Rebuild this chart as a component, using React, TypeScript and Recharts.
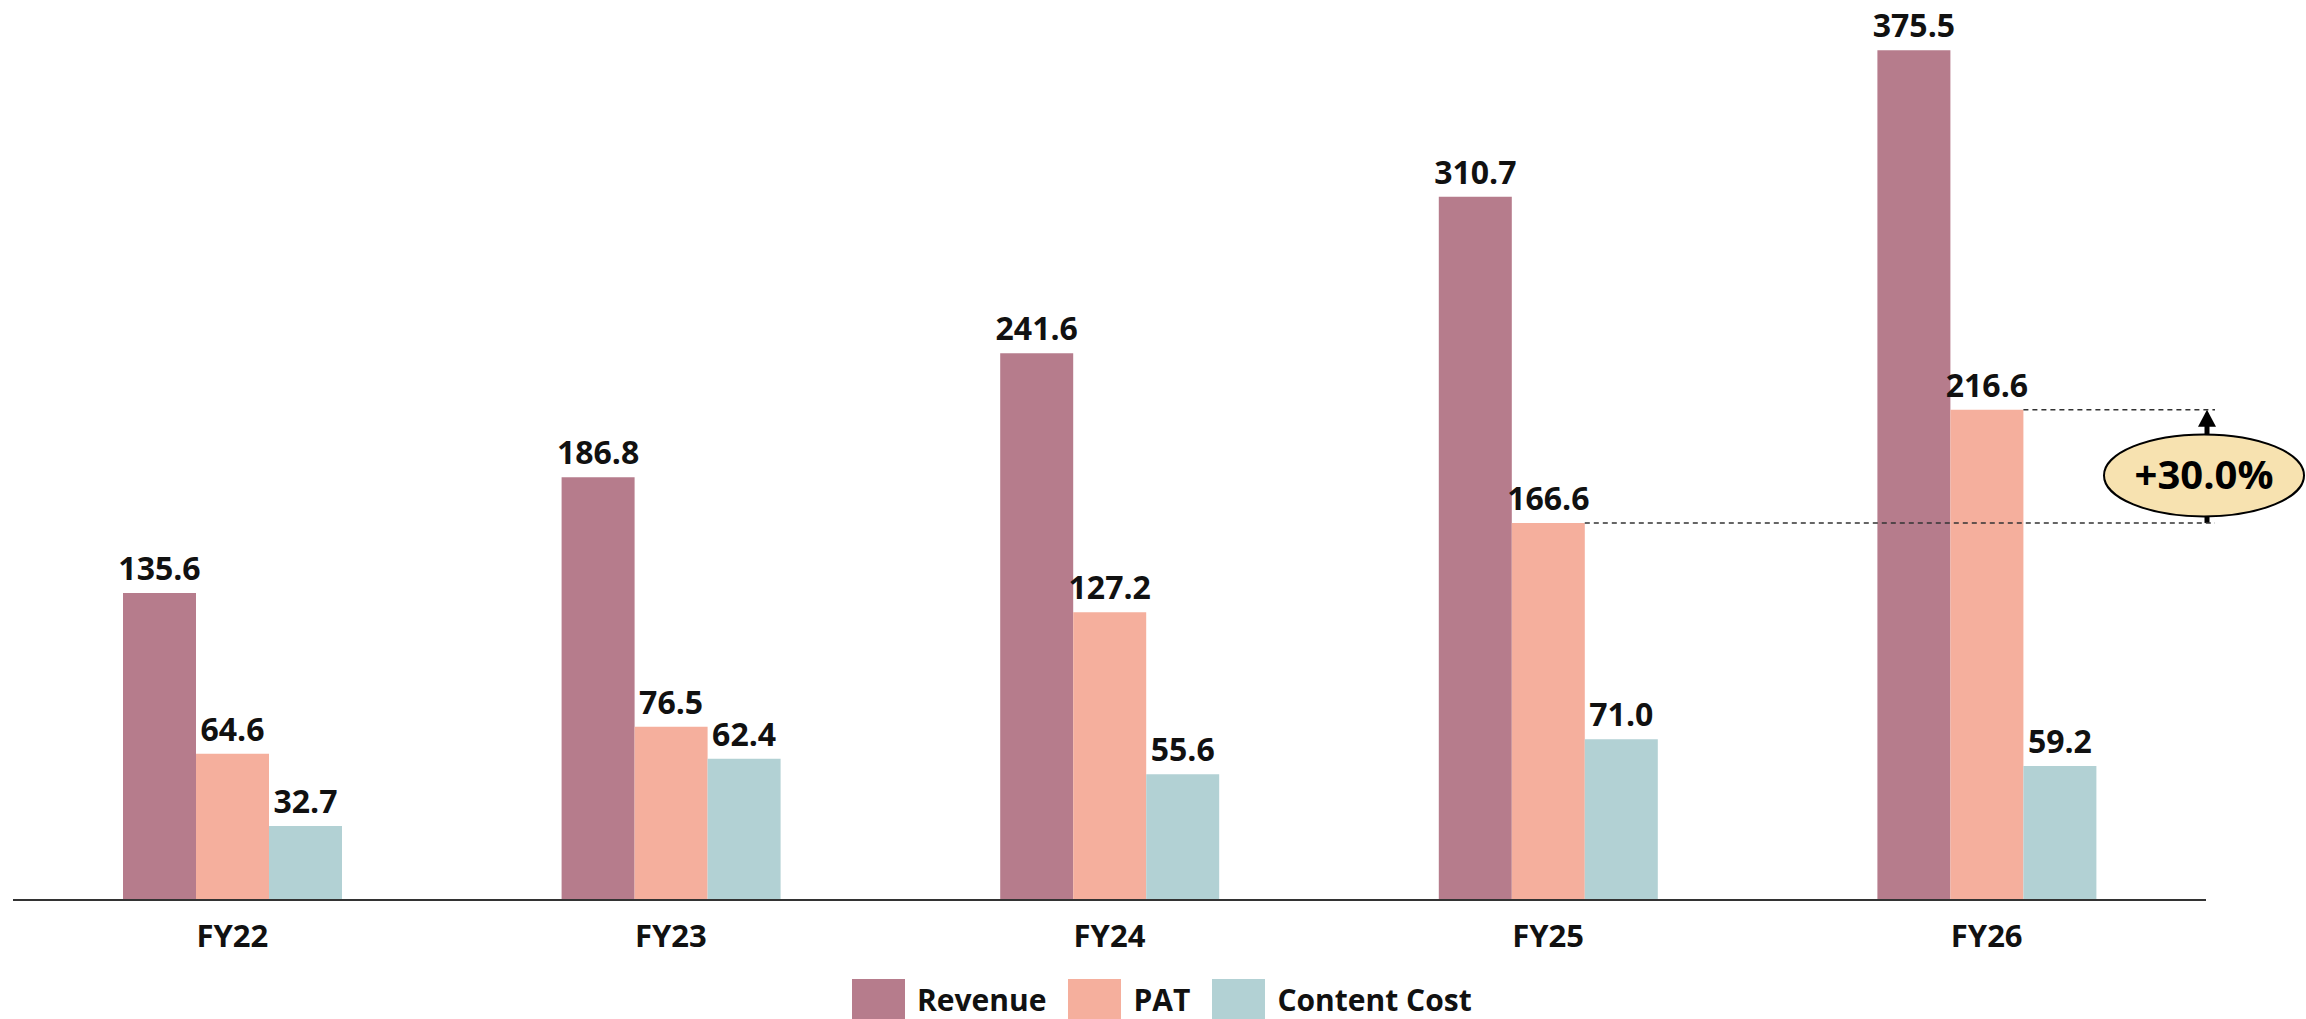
import React from 'react';
import { BarChart, Bar, XAxis, YAxis, Legend, LabelList } from 'recharts';

const YEARS = ['FY22', 'FY23', 'FY24', 'FY25', 'FY26'];
const REVENUE = [135.6, 186.8, 241.6, 310.7, 375.5];
const PAT = [64.6, 76.5, 127.2, 166.6, 216.6];
const CONTENT_COST = [32.7, 62.4, 55.6, 71.0, 59.2];
const GROWTH_LABEL = '+30.0%';

const SERIES = [
  { key: 'revenue', name: 'Revenue', color: '#b67c8c' },
  { key: 'pat', name: 'PAT', color: '#f5af9d' },
  { key: 'content', name: 'Content Cost', color: '#b2d1d4' },
];

const data = YEARS.map((year, i) => ({
  year,
  revenue: REVENUE[i],
  pat: PAT[i],
  content: CONTENT_COST[i],
}));

const W = 2306;
const H = 1019;
const MARGIN = { top: 40, right: 100, bottom: 79, left: 13 };
const X_AXIS_H = 40;
const Y_MAX = 380;
const PLOT_TOP = MARGIN.top;
const PLOT_H = H - MARGIN.top - MARGIN.bottom - X_AXIS_H;
const PLOT_RIGHT = W - MARGIN.right;
const FONT = "'Open Sans', 'DejaVu Sans', sans-serif";

const yOf = (v: number) => PLOT_TOP + PLOT_H * (1 - v / Y_MAX);

// PAT values that get the dashed guide lines (FY25 -> FY26)
const GUIDE_FROM = PAT[3];
const GUIDE_TO = PAT[4];

const valueLabel = (withGuides: boolean) => (props: any) => {
  const { x, y, width, value } = props;
  const guide = withGuides && (value === GUIDE_FROM || value === GUIDE_TO);
  return (
    <g>
      <text
        x={x + width / 2}
        y={y - 13}
        textAnchor="middle"
        fontFamily={FONT}
        fontWeight={700}
        fontSize={32}
        fill="#111"
      >
        {Number(value).toFixed(1)}
      </text>
      {guide && (
        <line
          x1={x + width}
          y1={y}
          x2={PLOT_RIGHT + 9}
          y2={y}
          stroke="#333"
          strokeWidth={1.6}
          strokeDasharray="5 4"
        />
      )}
    </g>
  );
};

function GrowthBadge() {
  const yLow = yOf(GUIDE_FROM);
  const yHigh = yOf(GUIDE_TO);
  const ax = PLOT_RIGHT + 1;
  const cy = (yLow + yHigh) / 2 + 9;
  return (
    <g>
      <line x1={ax} y1={yLow} x2={ax} y2={yHigh + 16} stroke="#000" strokeWidth={5} />
      <polygon points={`${ax - 9},${yHigh + 17} ${ax + 9},${yHigh + 17} ${ax},${yHigh}`} fill="#000" />
      <ellipse cx={ax - 3} cy={cy} rx={100} ry={41} fill="#f7e2b0" stroke="#000" strokeWidth={2} />
      <text
        x={ax - 3}
        y={cy + 14}
        textAnchor="middle"
        fontFamily={FONT}
        fontWeight={700}
        fontSize={40}
        fill="#000"
      >
        {GROWTH_LABEL}
      </text>
    </g>
  );
}

function LegendBox() {
  return (
    <div style={{ display: 'flex', alignItems: 'flex-start', fontFamily: FONT }}>
      {SERIES.map((s) => (
        <div key={s.key} style={{ display: 'flex', alignItems: 'flex-start', marginRight: 22 }}>
          <div style={{ width: 53, height: 40, background: s.color }} />
          <span
            style={{
              marginLeft: 12,
              marginTop: 3,
              fontSize: 30,
              fontWeight: 700,
              color: '#111',
              lineHeight: '36px',
            }}
          >
            {s.name}
          </span>
        </div>
      ))}
    </div>
  );
}

export default function App() {
  return (
    <div style={{ position: 'fixed', left: 0, top: 0, width: W, height: H, overflow: 'hidden', background: '#fff' }}>
      <BarChart width={W} height={H} data={data} margin={MARGIN} barGap={0} barSize={73}>
        <XAxis
          dataKey="year"
          height={X_AXIS_H}
          axisLine={{ stroke: '#333', strokeWidth: 2 }}
          tickLine={false}
          tickMargin={19}
          tick={{ fill: '#111', fontSize: 31, fontWeight: 700, fontFamily: FONT }}
        />
        <YAxis hide domain={[0, Y_MAX]} />
        <Legend
          layout="horizontal"
          verticalAlign="middle"
          align="center"
          content={() => <LegendBox />}
          wrapperStyle={{ top: 979, left: 852, width: 'auto' }}
        />
        {SERIES.map((s) => (
          <Bar key={s.key} dataKey={s.key} name={s.name} fill={s.color} isAnimationActive={false}>
            <LabelList dataKey={s.key} content={valueLabel(s.key === 'pat')} />
          </Bar>
        ))}
        <GrowthBadge />
      </BarChart>
    </div>
  );
}
